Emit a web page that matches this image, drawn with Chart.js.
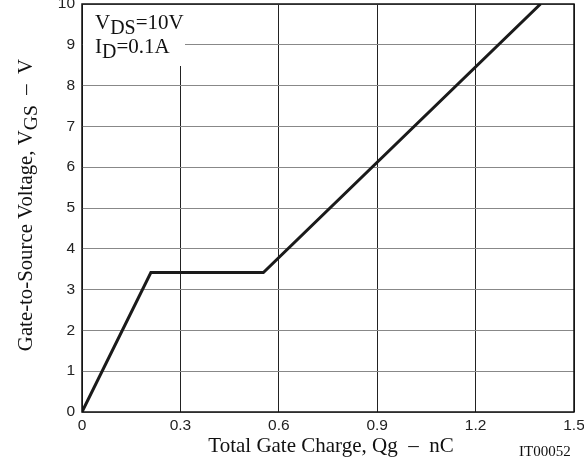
<!DOCTYPE html>
<html>
<head>
<meta charset="utf-8">
<script src="https://cdn.jsdelivr.net/npm/chart.js@4.4.0/dist/chart.umd.min.js"></script>
<style>
  html, body { margin: 0; padding: 0; background: #fff; }
  #wrap { width: 584px; height: 459px; }
</style>
</head>
<body>
<div id="wrap"><canvas id="gateChart" width="584" height="459"></canvas></div>
<script>
// gate charge curve
const chargeNC = [0, 0.21, 0.553, 1.398];
const voltageV = [0, 3.42, 3.42, 10];
const xTicks = [0, 0.3, 0.6, 0.9, 1.2, 1.5];
const yTicks = [0, 1, 2, 3, 4, 5, 6, 7, 8, 9, 10];

const serif = '"Liberation Serif", "Times New Roman", serif';
const sans = '"Liberation Sans", Arial, sans-serif';

// draws text made of parts, some of them subscript
function richText(ctx, parts, x, y, size, align) {
  const subSize = size * 0.95;
  let w = 0;
  parts.forEach(p => {
    ctx.font = (p.sub ? subSize : size) + 'px ' + serif;
    p.w = ctx.measureText(p.t).width;
    w += p.w;
  });
  let cx = align === 'center' ? x - w / 2 : x;
  ctx.textAlign = 'left';
  parts.forEach(p => {
    ctx.font = (p.sub ? subSize : size) + 'px ' + serif;
    ctx.fillText(p.t, cx, p.sub ? y + size * 0.25 : y);
    cx += p.w;
  });
}

const labelsPlugin = {
  id: 'labels',
  beforeDatasetsDraw(chart) {
    const ctx = chart.ctx;
    const a = chart.chartArea;
    ctx.save();
    // white box behind the conditions
    ctx.fillStyle = '#fff';
    ctx.fillRect(a.left + 1, a.top + 1, 184 - a.left, 65 - a.top);
    ctx.fillStyle = '#111';
    ctx.textBaseline = 'alphabetic';
    richText(ctx, [{ t: 'V' }, { t: 'DS', sub: true }, { t: '=10V' }], 95, 29, 21, 'left');
    richText(ctx, [{ t: 'I' }, { t: 'D', sub: true }, { t: '=0.1A' }], 95, 53, 21, 'left');
    ctx.restore();
  },
  afterDraw(chart) {
    const ctx = chart.ctx;
    const a = chart.chartArea;
    ctx.save();
    ctx.strokeStyle = '#111';
    ctx.lineWidth = 1.5;
    ctx.strokeRect(a.left, a.top, a.right - a.left, a.bottom - a.top);
    ctx.fillStyle = '#111';
    ctx.textBaseline = 'alphabetic';
    richText(ctx, [{ t: 'Total Gate Charge, Qg  \u2013  nC' }], 331, 452, 21, 'center');
    ctx.font = '15px ' + serif;
    ctx.fillText('IT00052', 519, 456);
    ctx.translate(32, 205);
    ctx.rotate(-Math.PI / 2);
    richText(ctx, [{ t: 'Gate-to-Source Voltage, V' }, { t: 'GS', sub: true }, { t: '  \u2013  V' }], 0, 0, 20.8, 'center');
    ctx.restore();
  }
};

const ctx = document.getElementById('gateChart').getContext('2d');
new Chart(ctx, {
  type: 'scatter',
  data: {
    datasets: [{
      data: chargeNC.map((q, i) => ({ x: q, y: voltageV[i] })),
      showLine: true,
      borderColor: '#1a1a1a',
      borderWidth: 3,
      pointRadius: 0,
      tension: 0,
    }]
  },
  options: {
    responsive: false,
    animation: false,
    layout: { padding: { left: 0, right: 10, top: 4, bottom: 0 } },
    plugins: {
      legend: { display: false },
      tooltip: { enabled: false },
    },
    scales: {
      x: {
        type: 'linear',
        min: 0,
        max: 1.5,
        afterBuildTicks: (scale) => { scale.ticks = xTicks.map(v => ({ value: v })); },
        afterFit: (scale) => { scale.height = 47; scale.paddingLeft = 0; scale.paddingRight = 0; },
        ticks: {
          padding: 4,
          color: '#222',
          font: { family: sans, size: 15.5 },
          callback: (v) => v === 0 ? '0' : v.toFixed(1),
        },
        grid: { color: '#222', lineWidth: 1, drawTicks: false },
        border: { display: false },
      },
      y: {
        type: 'linear',
        min: 0,
        max: 10,
        afterBuildTicks: (scale) => { scale.ticks = yTicks.map(v => ({ value: v })); },
        afterFit: (scale) => { scale.width = 82; scale.paddingTop = 0; scale.paddingBottom = 0; },
        ticks: {
          padding: 7,
          color: '#222',
          font: { family: sans, size: 15.5 },
        },
        grid: { color: '#888', lineWidth: 1, drawTicks: false },
        border: { display: false },
      }
    }
  },
  plugins: [labelsPlugin]
});
</script>
</body>
</html>
